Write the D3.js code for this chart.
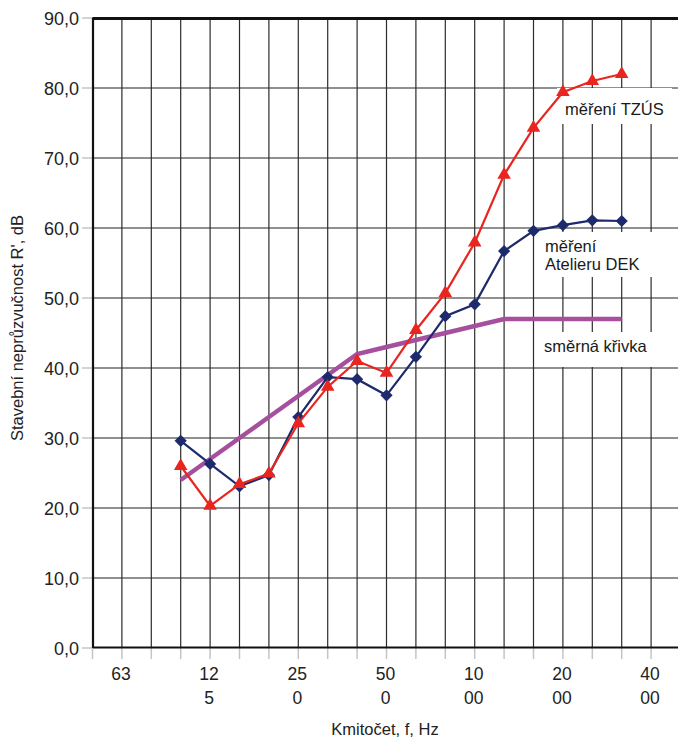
<!DOCTYPE html>
<html>
<head>
<meta charset="utf-8">
<script src="https://cdn.jsdelivr.net/npm/d3@7"></script>
<style>
  html, body { margin: 0; padding: 0; background: #fff; }
  svg { display: block; font-family: "Liberation Sans", Arial, Helvetica, sans-serif; }
</style>
</head>
<body>
<svg id="chart" width="678" height="740"></svg>
<script>
// Third-octave band centre frequencies, Hz
const bands = [50, 63, 80, 100, 125, 160, 200, 250, 315, 400, 500, 630, 800, 1000, 1250, 1600, 2000, 2500, 3150, 4000, 5000];

// Measured bands (100 Hz – 3150 Hz)
const measuredBands = [100, 125, 160, 200, 250, 315, 400, 500, 630, 800, 1000, 1250, 1600, 2000, 2500, 3150];

// Apparent sound reduction index R', dB
const dekValues  = [29.6, 26.3, 23.1, 24.7, 33.0, 38.7, 38.4, 36.1, 41.6, 47.4, 49.1, 56.7, 59.6, 60.4, 61.1, 61.0];
const tzusValues = [26.0, 20.3, 23.4, 24.9, 32.1, 37.3, 41.0, 39.3, 45.4, 50.7, 57.9, 67.6, 74.3, 79.4, 81.0, 82.0];
const refValues  = [24, 27, 30, 33, 36, 39, 42, 43, 44, 45, 46, 47, 47, 47, 47, 47];

// Axis ticks
const yTicks = [0, 10, 20, 30, 40, 50, 60, 70, 80, 90];
const xTickBands = [63, 125, 250, 500, 1000, 2000, 4000];
const xTickLines = [["63"], ["12", "5"], ["25", "0"], ["50", "0"], ["10", "00"], ["20", "00"], ["40", "00"]];

// Series names
const seriesNames = ["měření TZÚS", "měření Atelieru DEK", "směrná křivka"];
const yTitle = "Stavební neprůzvučnost R', dB";
const xTitle = "Kmitočet, f, Hz";

const W = 678, H = 740;
const plot = { left: 93, top: 18, bottom: 648, step: 29.4 };

const svg = d3.select("#chart");
svg.append("rect").attr("width", W).attr("height", H).attr("fill", "#fff");

const x = d3.scalePoint()
  .domain(bands)
  .range([plot.left - 0.5, plot.left - 0.5 + plot.step * (bands.length - 1)]);
const y = d3.scaleLinear().domain([0, 90]).range([plot.bottom, plot.top]);

const fmt = v => d3.format(".1f")(v).replace(".", ",");

// Light tick marks outside the plot area
const g = svg.append("g");
g.selectAll(".ytk").data(yTicks).join("line")
  .attr("x1", plot.left - 11).attr("x2", plot.left)
  .attr("y1", d => y(d)).attr("y2", d => y(d))
  .attr("stroke", "#c4c4c4").attr("stroke-width", 1.5);
g.selectAll(".xtk").data(bands).join("line")
  .attr("x1", d => x(d)).attr("x2", d => x(d))
  .attr("y1", plot.bottom).attr("y2", plot.bottom + 11)
  .attr("stroke", "#c4c4c4").attr("stroke-width", 1.5);

// Grid
g.selectAll(".hg").data(yTicks.filter(d => d > 0 && d < 90)).join("line")
  .attr("x1", plot.left).attr("x2", W)
  .attr("y1", d => y(d)).attr("y2", d => y(d))
  .attr("stroke", "#222").attr("stroke-width", 1.2);
g.selectAll(".vg").data(bands.slice(1)).join("line")
  .attr("x1", d => x(d)).attr("x2", d => x(d))
  .attr("y1", plot.top).attr("y2", plot.bottom)
  .attr("stroke", "#2c2c2c").attr("stroke-width", 1.2);

// Plot frame
g.append("line").attr("x1", plot.left - 0.5).attr("x2", W).attr("y1", plot.top + 0.5).attr("y2", plot.top + 0.5)
  .attr("stroke", "#111").attr("stroke-width", 3);
g.append("line").attr("x1", plot.left).attr("x2", plot.left).attr("y1", plot.top).attr("y2", plot.bottom)
  .attr("stroke", "#111").attr("stroke-width", 2.2);
g.append("line").attr("x1", plot.left).attr("x2", W).attr("y1", plot.bottom - 0.5).attr("y2", plot.bottom - 0.5)
  .attr("stroke", "#111").attr("stroke-width", 1.8);

// Y tick labels
g.selectAll(".ytl").data(yTicks).join("text")
  .attr("x", 79).attr("y", d => y(d) + 6.5)
  .attr("text-anchor", "end").attr("font-size", 18).attr("fill", "#222")
  .text(fmt);

// X tick labels (wrapped onto two lines)
const xl = g.selectAll(".xtl").data(xTickBands).join("text")
  .attr("text-anchor", "middle").attr("font-size", 17.5).attr("fill", "#222");
xl.each(function(d, i) {
  d3.select(this).selectAll("tspan").data(xTickLines[i]).join("tspan")
    .attr("x", x(d) - 1).attr("y", (t, j) => 680 + j * 24).text(t => t);
});

// Axis titles
g.append("text").attr("x", 385).attr("y", 735).attr("text-anchor", "middle")
  .attr("font-size", 16.5).attr("fill", "#222").text(xTitle);
g.append("text").attr("transform", "translate(23,328) rotate(-90)").attr("text-anchor", "middle")
  .attr("font-size", 16.5).attr("fill", "#222").text(yTitle);

// Series label boxes (white background over grid)
const labels = [
  { lines: [seriesNames[0]], box: [557, 88, 115, 36], tx: 565, ty: [115] },
  { lines: ["měření", "Atelieru DEK"], box: [537, 232, 125, 45], tx: 545, ty: [252, 270] },
  { lines: [seriesNames[2]], box: [537, 332, 125, 35], tx: 544, ty: [352] }
];
labels.forEach(l => {
  g.append("rect").attr("x", l.box[0]).attr("y", l.box[1]).attr("width", l.box[2]).attr("height", l.box[3]).attr("fill", "#fff");
  const t = g.append("text").attr("font-size", 16.5).attr("fill", "#1a1a1a");
  l.lines.forEach((s, j) => t.append("tspan").attr("x", l.tx).attr("y", l.ty[j]).text(s));
});

const line = d3.line().x((d, i) => x(measuredBands[i])).y(d => y(d));

// Reference curve
g.append("path").datum(refValues).attr("d", line)
  .attr("fill", "none").attr("stroke", "#a54f9e").attr("stroke-width", 4.5).attr("stroke-linejoin", "miter");

// Atelier DEK measurement – navy with diamonds
const navy = "#1d2a6c";
g.append("path").datum(dekValues).attr("d", line)
  .attr("fill", "none").attr("stroke", navy).attr("stroke-width", 2.2);
g.selectAll(".dia").data(dekValues).join("path")
  .attr("d", d3.symbol(d3.symbolDiamond2, 95))
  .attr("transform", (d, i) => `translate(${x(measuredBands[i])},${y(d)})`)
  .attr("fill", navy);

// TZÚS measurement – red with triangles
const red = "#e8251f";
g.append("path").datum(tzusValues).attr("d", line)
  .attr("fill", "none").attr("stroke", red).attr("stroke-width", 2.2);
g.selectAll(".tri").data(tzusValues).join("path")
  .attr("d", d3.symbol(d3.symbolTriangle, 80))
  .attr("transform", (d, i) => `translate(${x(measuredBands[i])},${y(d)})`)
  .attr("fill", red);
</script>
</body>
</html>
